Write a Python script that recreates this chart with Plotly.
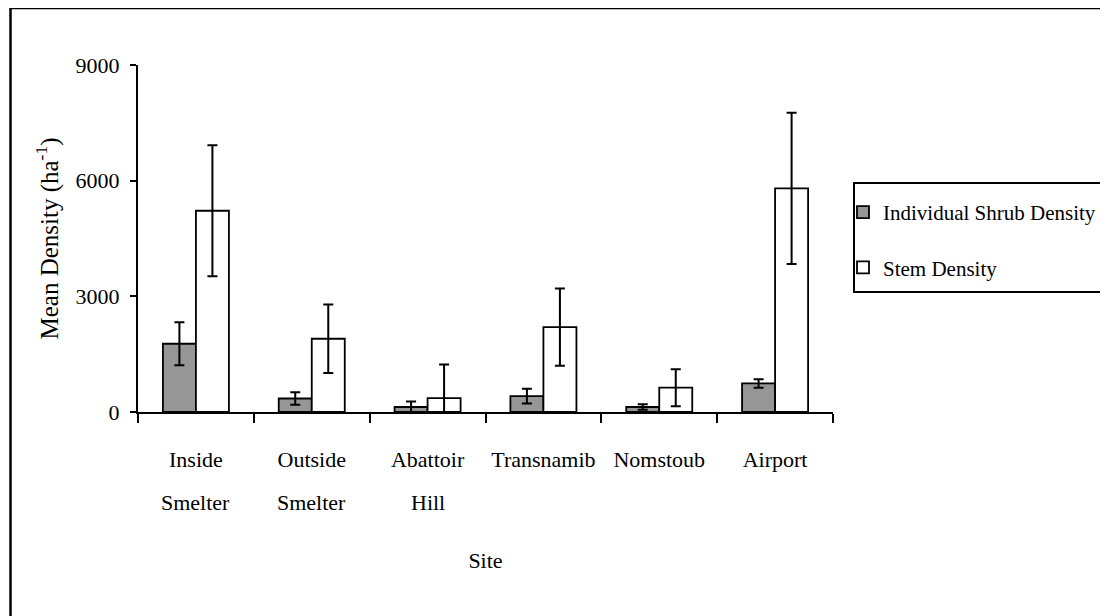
import plotly.graph_objects as go

# ---- data ----
sites = ["Inside Smelter", "Outside Smelter", "Abattoir Hill", "Transnamib", "Nomstoub", "Airport"]
shrub_density = [1770, 350, 130, 410, 130, 740]
shrub_err = [560, 160, 140, 190, 70, 110]
stem_density = [5220, 1900, 360, 2200, 630, 5800]
stem_err = [1700, 890, 870, 1000, 480, 1960]
y_ticks = [0, 3000, 6000, 9000]
series_names = ["Individual Shrub Density", "Stem Density"]

FONT = "Liberation Serif, Times New Roman, serif"

# page offset of the figure (default body margin) and window size
OFF = 8
WIN_W, WIN_H = 1108, 616
W, H = WIN_W - OFF, WIN_H - OFF
# plot-area geometry in screen pixels
L, R, T, B = 138, 833, 65, 412


def px_x(p):
    return (p - L) / (R - L)


def px_y(p):
    return (B - p) / (B - T)


fig = go.Figure()
fig.add_trace(go.Bar(
    x=sites, y=shrub_density, name=series_names[0], legendgroup="a",
    marker=dict(color="#969696", line=dict(color="black", width=1.8)),
    error_y=dict(type="data", array=shrub_err, visible=True, color="black", thickness=2, width=5),
))
fig.add_trace(go.Bar(
    x=sites, y=stem_density, name=series_names[1], legendgroup="b",
    marker=dict(color="white", line=dict(color="black", width=1.8)),
    error_y=dict(type="data", array=stem_err, visible=True, color="black", thickness=2, width=5),
))

first_lines = [s.split(" ")[0] for s in sites]
second_lines = [" ".join(s.split(" ")[1:]) for s in sites]

annotations = []
for s, second in zip(sites, second_lines):
    if second:
        annotations.append(dict(
            x=s, xref="x", y=px_y(502), yref="paper", yanchor="middle",
            text=second, showarrow=False, font=dict(family=FONT, size=22, color="black"),
        ))

shapes = [
    # outer frame (left and top edges visible)
    dict(type="line", xref="paper", yref="paper", x0=px_x(10.5), x1=px_x(1200), y0=px_y(8), y1=px_y(8),
         line=dict(color="black", width=2.5)),
    dict(type="line", xref="paper", yref="paper", x0=px_x(10.5), x1=px_x(10.5), y0=px_y(8), y1=px_y(700),
         line=dict(color="black", width=2.5)),
    # legend box
    dict(type="rect", xref="paper", yref="paper", x0=px_x(854), x1=px_x(1102), y0=px_y(292), y1=px_y(183),
         line=dict(color="black", width=2), fillcolor="rgba(0,0,0,0)"),
]

fig.update_layout(
    width=W, height=H,
    margin=dict(l=L - OFF, r=WIN_W - R, t=T - OFF, b=WIN_H - B, autoexpand=False),
    paper_bgcolor="white", plot_bgcolor="white",
    barmode="group", bargap=0.43, bargroupgap=0,
    font=dict(family=FONT, size=22, color="black"),
    showlegend=True,
    legend=dict(
        x=px_x(843), y=px_y(192), xanchor="left", yanchor="top",
        bgcolor="rgba(0,0,0,0)", borderwidth=0,
        font=dict(family=FONT, size=21, color="black"),
        tracegroupgap=25, traceorder="grouped",
    ),
    xaxis=dict(
        type="category", tickmode="array", tickvals=sites, ticktext=first_lines,
        tickson="boundaries", ticks="outside", ticklen=9, tickwidth=1.5, tickcolor="black",
        showline=True, linecolor="black", linewidth=2, showgrid=False, zeroline=False,
        ticklabelstandoff=27,
        tickfont=dict(family=FONT, size=22, color="black"),
        title=dict(text="Site", font=dict(family=FONT, size=22, color="black"), standoff=81),
        automargin=False,
    ),
    yaxis=dict(
        range=[0, 9000], tickmode="array", tickvals=y_ticks, ticktext=[str(v) for v in y_ticks],
        ticks="outside", ticklen=6, tickwidth=1.5, tickcolor="black",
        showline=True, linecolor="black", linewidth=2, showgrid=False, zeroline=False,
        ticklabelstandoff=6,
        tickfont=dict(family=FONT, size=22, color="black"),
        title=dict(text="Mean Density (ha<sup>-1</sup>)", font=dict(family=FONT, size=25, color="black"), standoff=10),
        automargin=False,
    ),
    annotations=annotations,
    shapes=shapes,
)

fig.write_html("out.html")
